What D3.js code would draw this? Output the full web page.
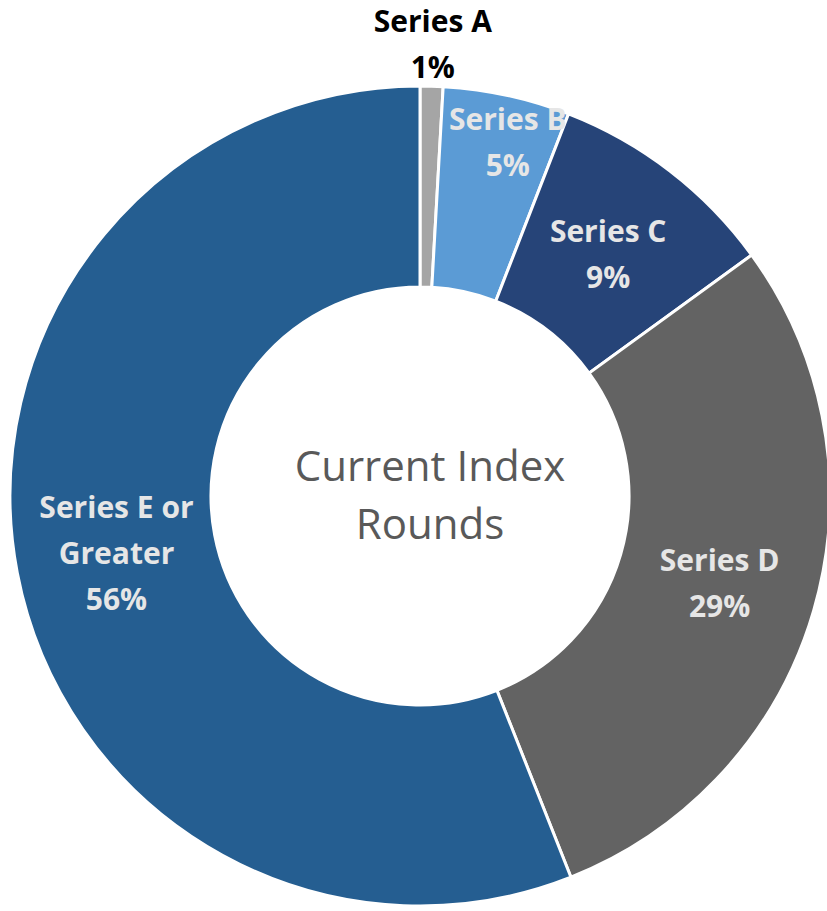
<!DOCTYPE html>
<html lang="en">
<head>
  <meta charset="utf-8">
  <title>Current Index Rounds</title>
  <script src="https://d3js.org/d3.v7.min.js"></script>
  <style>
    body { margin: 0; background: #fff; }
    .lbl { font-family: "Open Sans", Lato, sans-serif; font-weight: 700; font-size: 30px; }
  </style>
</head>
<body>
  <div class="chart"></div>
  <script>
    // data
    var categories = ["Series A", "Series B", "Series C", "Series D", "Series E or Greater"];
    var values = [0.9, 5.0, 9.1, 29.0, 56.0];
    var percentLabels = ["1%", "5%", "9%", "29%", "56%"];
    var colors = ["#a5a5a5", "#5b9bd5", "#264478", "#636363", "#255e91"];

    var width = 827, height = 911;
    var cx = 420, cy = 496;
    var outerR = 410, innerR = 209;

    var svg = d3.select(".chart").append("svg")
        .attr("width", width)
        .attr("height", height)
      .append("g")
        .attr("transform", "translate(" + cx + "," + cy + ")");

    var pie = d3.pie().sort(null).value(function(d) { return d; });
    var arcs = pie(values);

    var arc = d3.arc().innerRadius(innerR).outerRadius(outerR);

    svg.selectAll(".slice")
        .data(arcs)
      .enter().append("path")
        .attr("class", "slice")
        .attr("d", arc)
        .attr("fill", function(d, i) { return colors[i]; })
        .attr("stroke", "#fff")
        .attr("stroke-width", 3);

    // label radius per slice (A sits outside, B nudged like Excel does)
    var labelR = [452, 362, 305, 312, 309];
    var labelDx = [0, 11, 2, 0, 0];
    var lines = function(i) {
      if (i == 4) return ["Series E or", "Greater", percentLabels[i]];
      return [categories[i], percentLabels[i]];
    };

    arcs.forEach(function(d, i) {
      var c = d3.arc().innerRadius(labelR[i]).outerRadius(labelR[i]).centroid(d);
      var ls = lines(i);
      var lh = 46;
      var t = svg.append("text")
          .attr("class", "lbl")
          .attr("text-anchor", "middle")
          .attr("fill", i == 0 ? "#000" : "#e6e6e6");
      ls.forEach(function(s, j) {
        t.append("tspan")
          .attr("x", c[0] + labelDx[i])
          .attr("y", c[1] + (j - (ls.length - 1) / 2) * lh)
          .attr("dy", "0.35em")
          .text(s);
      });
    });

    // centre title
    svg.append("text")
        .attr("text-anchor", "middle")
        .attr("fill", "#595959")
        .style("font-family", "'Open Sans', Lato, sans-serif")
        .style("font-size", "42px")
      .selectAll("tspan")
        .data(["Current Index", "Rounds"])
      .enter().append("tspan")
        .attr("x", 10)
        .attr("y", function(d, i) { return -30 + i * 58; })
        .attr("dy", "0.35em")
        .text(function(d) { return d; });
  </script>
</body>
</html>
